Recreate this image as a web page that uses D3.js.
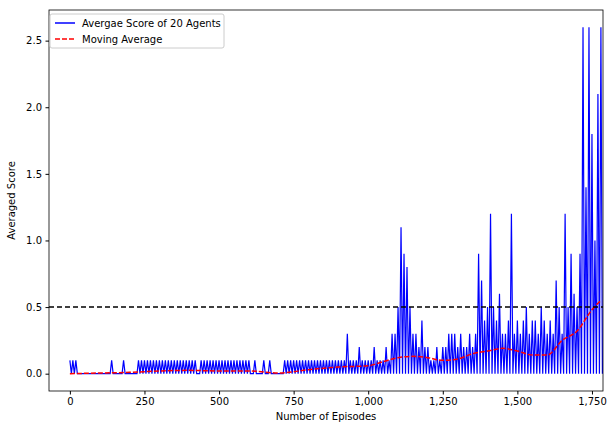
<!DOCTYPE html>
<html>
<head>
<meta charset="utf-8">
<script src="https://cdn.jsdelivr.net/npm/d3@7"></script>
<style>
body{margin:0;background:#fff;font-family:"DejaVu Sans",sans-serif;}
text{font-family:"DejaVu Sans",sans-serif;font-size:10px;fill:#000;}
</style>
</head>
<body>
<svg id="c" width="612" height="429"></svg>
<script>
// peak score per 10-episode bucket (episodes 0,10,...,1780)
var bucketStart = 0, bucketSize = 10;
var scores = [
0.1,0.1,0.1,0,0,0,0,0,0,0,
0,0,0,0,0.1,0,0,0,0.1,0,
0,0,0,0.1,0.1,0.1,0.1,0.1,0.1,0.1,
0.1,0.1,0.1,0.1,0.1,0.1,0.1,0.1,0.1,0.1,
0.1,0.1,0.1,0,0.1,0.1,0.1,0.1,0.1,0.1,
0.1,0.1,0.1,0.1,0.1,0.1,0.1,0.1,0.1,0.1,
0.1,0,0.1,0,0,0.1,0,0.1,0,0,
0,0,0.1,0.1,0.1,0.1,0.1,0.1,0.1,0.1,
0.1,0.1,0.1,0.1,0.1,0.1,0.1,0.1,0.1,0.1,
0.1,0.1,0.1,0.3,0.1,0.1,0.1,0.2,0.1,0.1,
0.1,0.1,0.2,0.1,0.1,0.1,0.2,0.1,0.3,0.3,
0.5,1.1,0.9,0.8,0.5,0.3,0.3,0.2,0.4,0.2,
0.2,0.1,0.1,0.2,0.1,0.2,0.2,0.3,0.3,0.3,
0.2,0.3,0.2,0.2,0.3,0.2,0.3,0.9,0.7,0.4,
0.5,1.2,0.5,0.4,0.6,0.3,0.3,0.4,1.2,0.3,
0.4,0.3,0.4,0.5,0.3,0.4,0.4,0.3,0.5,0.4,
0.3,0.4,0.3,0.7,0.5,0.3,1.2,0.5,0.9,0.6,
0.5,0.9,2.6,1.4,2.6,1.8,1.0,2.1,2.6
];
var maEpisodes = [0,100,200,300,400,500,600,700,800,900,1000,1050,1100,1150,1200,1250,1300,1350,1400,1450,1500,1550,1600,1650,1700,1750,1780];
var maValues  = [0,0.005,0.01,0.02,0.025,0.02,0.02,0.005,0.03,0.05,0.06,0.09,0.12,0.13,0.12,0.1,0.11,0.15,0.17,0.19,0.17,0.14,0.14,0.25,0.32,0.48,0.55];
var xTicks = [0,250,500,750,1000,1250,1500,1750];
var yTicks = [0,0.5,1,1.5,2,2.5];
var target = 0.5;

var svg = d3.select("#c");
var m = {l:49, r:603, t:10, b:391};
var x = d3.scaleLinear().domain([-70,1787]).range([m.l,m.r]);
var y = d3.scaleLinear().domain([-0.13,2.73]).range([m.b,m.t]);

var clip = svg.append("clipPath").attr("id","cl").append("rect")
  .attr("x",m.l).attr("y",m.t).attr("width",m.r-m.l).attr("height",m.b-m.t);

// raw scores: each bucket jumps to its peak then back to zero
var pts = [];
scores.forEach(function(v,i){
  var e = bucketStart + i*bucketSize;
  pts.push([e,v]); pts.push([e+bucketSize/2,0]);
});
var g = svg.append("g").attr("clip-path","url(#cl)");
g.append("path").datum(pts)
  .attr("d", d3.line().x(function(d){return x(d[0]);}).y(function(d){return y(d[1]);}))
  .attr("fill","none").attr("stroke","#0000ff").attr("stroke-width",1.2);

g.append("path").datum(maEpisodes.map(function(e,i){return [e,maValues[i]];}))
  .attr("d", d3.line().curve(d3.curveMonotoneX).x(function(d){return x(d[0]);}).y(function(d){return y(d[1]);}))
  .attr("fill","none").attr("stroke","#ff0000").attr("stroke-width",1.5).attr("stroke-dasharray","5,2");

g.append("line").attr("x1",m.l).attr("x2",m.r).attr("y1",y(target)).attr("y2",y(target))
  .attr("stroke","#000").attr("stroke-width",1.5).attr("stroke-dasharray","5,3");

svg.append("g").attr("transform","translate(0,"+m.b+")")
  .call(d3.axisBottom(x).tickValues(xTicks).tickSize(3.5).tickPadding(3.5))
  .call(function(s){s.select(".domain").remove();});
svg.append("g").attr("transform","translate("+m.l+",0)")
  .call(d3.axisLeft(y).tickValues(yTicks).tickSize(3.5).tickPadding(3.5).tickFormat(d3.format(".1f")))
  .call(function(s){s.select(".domain").remove();});
svg.selectAll(".tick text").style("font-size","10px").attr("fill","#000");

svg.append("rect").attr("x",m.l).attr("y",m.t).attr("width",m.r-m.l).attr("height",m.b-m.t)
  .attr("fill","none").attr("stroke","#000").attr("stroke-width",0.8);

svg.append("text").attr("x",(m.l+m.r)/2).attr("y",420).attr("text-anchor","middle").text("Number of Episodes");
svg.append("text").attr("transform","translate(15,"+((m.t+m.b)/2)+") rotate(-90)").attr("text-anchor","middle").text("Averaged Score");

// legend
var lg = svg.append("g").attr("transform","translate(50,14)");
lg.append("rect").attr("width",174).attr("height",34).attr("rx",2).attr("fill","#fff").attr("stroke","#ccc");
lg.append("line").attr("x1",5).attr("x2",25).attr("y1",9).attr("y2",9).attr("stroke","#0000ff").attr("stroke-width",1.5);
lg.append("text").attr("x",32).attr("y",13).text("Avergae Score of 20 Agents");
lg.append("line").attr("x1",5).attr("x2",25).attr("y1",25).attr("y2",25).attr("stroke","#ff0000").attr("stroke-width",1.5).attr("stroke-dasharray","5,2");
lg.append("text").attr("x",32).attr("y",29).text("Moving Average");
</script>
</body>
</html>
